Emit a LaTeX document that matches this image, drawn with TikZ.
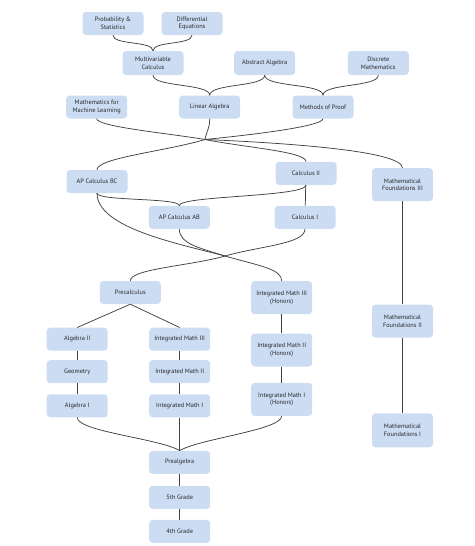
\documentclass[tikz,border=0pt]{standalone}
\usepackage{fontspec}
\setmainfont{PT Sans}
\definecolor{boxfill}{RGB}{204,220,243}
\definecolor{txt}{RGB}{40,40,40}
\definecolor{lnk}{RGB}{65,65,65}
\tikzset{
  box/.style={fill=boxfill, rounded corners=3.5pt, minimum width=61pt, minimum height=23pt,
    inner sep=1pt, align=center, text=txt, font=\fontsize{6.35}{7.6}\selectfont},
  tall/.style={box, minimum height=33pt},
  link/.style={draw=lnk, line width=0.75pt}
}
\begin{document}
\begin{tikzpicture}[x=1pt,y=-1pt]
\useasboundingbox (0,0) rectangle (474,546);
% nodes
\node[box] (PS) at (113,23.5) {Probability \&\\Statistics};
\node[box] (DE) at (192,23.5) {Differential\\Equations};
\node[box, minimum height=24pt] (MC) at (153,63) {Multivariable\\Calculus};
\node[box, minimum height=24pt] (AA) at (264.7,63) {Abstract Algebra};
\node[box, minimum height=24pt] (DM) at (378.3,63) {Discrete\\Mathematics};
\node[box] (ML) at (96.7,107) {Mathematics for\\Machine Learning};
\node[box] (LA) at (209.7,107) {Linear Algebra};
\node[box] (MP) at (323,107) {Methods of Proof};
\node[box] (BC) at (97,181.5) {AP Calculus BC};
\node[box] (C2) at (306,173.3) {Calculus II};
\node[tall] (MF3) at (402.5,184.7) {Mathematical\\Foundations III};
\node[box] (AB) at (179.3,217.3) {AP Calculus AB};
\node[box] (C1) at (305,217.3) {Calculus I};
\node[box] (PC) at (130.3,292.5) {Precalculus};
\node[tall] (IM3H) at (281.7,297.7) {Integrated Math III\\(Honors)};
\node[tall] (MF2) at (402.5,321) {Mathematical\\Foundations II};
\node[box] (A2) at (77.2,339.2) {Algebra II};
\node[box] (IM3) at (179.7,339.2) {Integrated Math III};
\node[tall] (IM2H) at (281.7,350) {Integrated Math II\\(Honors)};
\node[box] (G) at (77.2,371.7) {Geometry};
\node[box] (IM2) at (179.7,371.7) {Integrated Math II};
\node[box] (A1) at (77.2,405.8) {Algebra I};
\node[box] (IM1) at (179.7,405.8) {Integrated Math I};
\node[tall] (IM1H) at (281.7,399.3) {Integrated Math I\\(Honors)};
\node[tall, minimum height=34pt] (MF1) at (402.5,430.3) {Mathematical\\Foundations I};
\node[box] (PA) at (179.7,462.3) {Prealgebra};
\node[box] (G5) at (179.7,497.3) {5th Grade};
\node[box] (G4) at (179.7,531.3) {4th Grade};
\coordinate (J1) at (205,139.5);
\coordinate (J2) at (225,256);
% top curves
\draw[link] (PS.south) .. controls +(0,10) and +(0,-10) .. (MC.north);
\draw[link] (DE.south) .. controls +(0,10) and +(0,-10) .. (MC.north);
\draw[link] (MC.south) .. controls +(0,12) and +(0,-12) .. (LA.north);
\draw[link] (AA.south) .. controls +(0,12) and +(0,-12) .. (LA.north);
\draw[link] (AA.south) .. controls +(0,12) and +(0,-12) .. (MP.north);
\draw[link] (DM.south) .. controls +(0,12) and +(0,-12) .. (MP.north);
% junction 1
\draw[link] (ML.south) .. controls +(0,8) and +(-35,-6) .. (J1);
\draw[link] (LA.south) .. controls +(0,10) and +(2,-10) .. (J1);
\draw[link] (MP.south) .. controls +(0,8) and +(40,-4) .. (J1);
\draw[link] (J1) .. controls +(-40,12) and +(0,-12) .. (BC.north);
\draw[link] (J1) .. controls +(40,8) and +(0,-10) .. (C2.north);
\draw[link] (J1) .. controls +(70,3) and +(0,-18) .. (MF3.north);
% calculus
\draw[link] (BC.south) .. controls +(0,8) and +(0,-8) .. (AB.north);
\draw[link] (C2.south) .. controls +(0,12) and +(0,-10) .. (AB.north);
\draw[link] (C2) -- (C1);
% junction 2
\draw[link] (BC.south) .. controls +(0,35) and +(-45,-12) .. (J2);
\draw[link] (AB.south) .. controls +(0,15) and +(-25,-8) .. (J2);
\draw[link] (C1.south) .. controls +(0,15) and +(35,-10) .. (J2);
\draw[link] (J2) .. controls +(-35,10) and +(0,-12) .. (PC.north);
\draw[link] (J2) .. controls +(35,10) and +(0,-12) .. (IM3H.north);
% precalculus split
\draw[link] (PC.south) -- (A2.north);
\draw[link] (PC.south) -- (IM3.north);
% chains
\draw[link] (A2) -- (G);
\draw[link] (G) -- (A1);
\draw[link] (IM3) -- (IM2);
\draw[link] (IM2) -- (IM1);
\draw[link] (IM3H) -- (IM2H);
\draw[link] (IM2H) -- (IM1H);
\draw[link] (MF3) -- (MF2);
\draw[link] (MF2) -- (MF1);
% to prealgebra
\draw[link] (A1.south) .. controls +(0,14) and +(-20,-12) .. (PA.north);
\draw[link] (IM1) -- (PA);
\draw[link] (IM1H.south) .. controls +(0,14) and +(20,-12) .. (PA.north);
\draw[link] (PA) -- (G5);
\draw[link] (G5) -- (G4);
\end{tikzpicture}
\end{document}
